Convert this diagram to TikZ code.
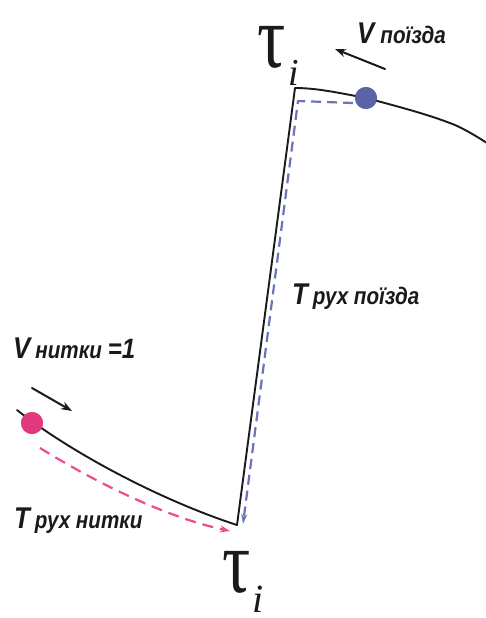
\documentclass[tikz,border=0pt]{standalone}
\usepackage{fontspec}
\usetikzlibrary{arrows.meta,calc,positioning}
\newfontfamily\trainfont[FakeStretch=0.86]{Liberation Sans}
\newfontfamily\taufont{Liberation Serif}
\definecolor{trainPink}{HTML}{E2387F}
\definecolor{trainPinkDash}{HTML}{EE4A95}
\definecolor{trainBlue}{HTML}{5A63A6}
\definecolor{trainBlueDash}{HTML}{6A74B8}
\definecolor{trainInk}{HTML}{1A1A1A}
\newcommand{\tauglyph}{\scalebox{1.1}[1.4]{\fontsize{64}{64}\selectfont τ}}

\begin{document}
\begin{tikzpicture}[x=1pt,y=-1pt,>=Stealth,line cap=round,line join=round]
\useasboundingbox[fill=white] (0,0) rectangle (485,618);
\tikzset{track/.style={draw=trainInk,line width=1.9pt},
  pinkdash/.style={draw=trainPinkDash,line width=2.2pt,dash pattern=on 11pt off 7pt,line cap=butt},
  bluedash/.style={draw=trainBlueDash,line width=2.2pt,dash pattern=on 10pt off 6pt,line cap=butt},
  move/.style={draw=trainInk,line width=2pt,-{Stealth[length=11pt,width=8pt]}},
  dot/.style={circle,inner sep=0pt,minimum size=22pt},
  lbl/.style={anchor=base west,inner sep=0pt,font=\trainfont\bfseries\itshape,text=trainInk},
  tau/.style={anchor=base west,inner sep=0pt,text=trainInk,font=\taufont}}
% corners of the schedule line
\coordinate (lstart) at (17,410);
\coordinate (bottomv) at (237,525);
\coordinate (topv) at (295,88);
\coordinate (rend) at (487,143);
\node[dot,fill=trainPink] (pinkdot) at (32,423) {};
\node[dot,fill=trainBlue] (bluedot) at (366,98) {};
% train line
\draw[track] (lstart) .. controls (70,452) and (160,500) .. (bottomv) -- (topv)
  .. controls (315,88) and (335,92) .. (bluedot.center)
  .. controls (400,107) and (430,115) .. (455,125) .. controls (466,130) and (476,136) .. (rend);
\node[dot,fill=trainPink] at (pinkdot) {};
\node[dot,fill=trainBlue] at (bluedot) {};
% travel times
\coordinate (pinkfrom) at (40,448);
\coordinate (pinkto) at (230,531);
\draw[pinkdash,-{Stealth[length=10pt,width=7pt,fill=trainPinkDash]}] (pinkfrom) .. controls (95,482) and (165,517) .. (pinkto);
\coordinate (bluefrom) at (353,103);
\coordinate (bluecorner) at (298,101);
\coordinate (blueto) at (243,524);
\draw[bluedash,-{Stealth[length=10pt,width=6pt,fill=trainBlueDash]}] (bluefrom) -- (bluecorner) -- (blueto);
% speed arrows
\coordinate (vtopfrom) at (385,69); \coordinate (vtopto) at (335,49);
\draw[move] (vtopfrom) -- (vtopto);
\coordinate (vleftfrom) at (32,388); \coordinate (vleftto) at (72,411);
\draw[move] (vleftfrom) -- (vleftto);
% labels
\node[tau] (tautop) at (257,67) {\tauglyph\kern3pt\raisebox{-18pt}{\fontsize{38}{38}\selectfont\itshape i}};
\node[tau] (taubottom) at (222,592) {\tauglyph\kern2pt\raisebox{-20pt}{\fontsize{40}{40}\selectfont\itshape i}};
\node[lbl] (vtrain) at (357,44) {{\fontsize{30}{30}\selectfont V}\kern6pt{\fontsize{24}{24}\selectfont поїзда}};
\node[lbl] (ttrain) at (292,304) {{\fontsize{30}{30}\selectfont T}\kern5pt{\fontsize{24}{24}\selectfont рух поїзда}};
\node[lbl] (vthread) at (13,358) {{\fontsize{30}{30}\selectfont V}\kern5pt{\fontsize{24}{24}\selectfont нитки}\kern6pt{\fontsize{28}{28}\selectfont =1}};
\node[lbl] (tthread) at (14,528) {{\fontsize{30}{30}\selectfont T}\kern5pt{\fontsize{24}{24}\selectfont рух нитки}};
\end{tikzpicture}
\end{document}
